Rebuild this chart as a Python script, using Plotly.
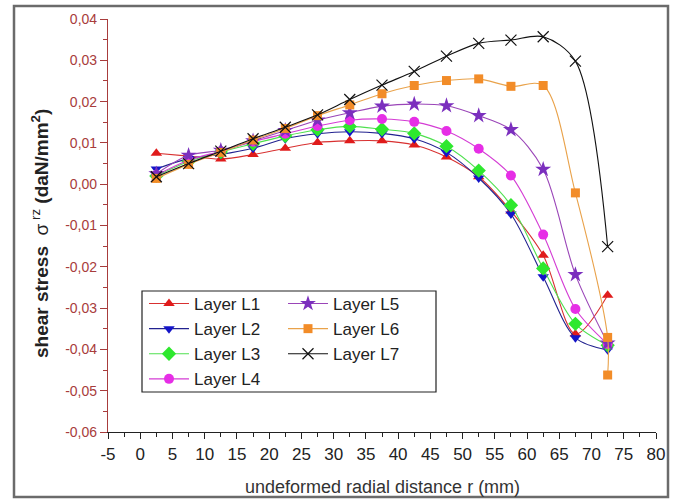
import plotly.graph_objects as go

# ---------------- data ----------------
r = [2.5, 7.5, 12.5, 17.5, 22.5, 27.5, 32.5, 37.5, 42.5, 47.5, 52.5, 57.5, 62.5, 67.5, 72.5]
r_l6 = r + [72.5]

L1 = [0.0075, 0.0068, 0.0061, 0.0072, 0.0087, 0.0101, 0.0105, 0.0105, 0.0095, 0.0066, 0.0018, -0.0065, -0.0172, -0.0363, -0.0269]
L2 = [0.0037, 0.0062, 0.0072, 0.0087, 0.0110, 0.0122, 0.0127, 0.0123, 0.0110, 0.0077, 0.0015, -0.0072, -0.0224, -0.0372, -0.0401]
L3 = [0.0020, 0.0055, 0.0078, 0.0098, 0.0117, 0.0132, 0.0140, 0.0133, 0.0123, 0.0092, 0.0033, -0.0051, -0.0204, -0.0338, -0.0390]
L4 = [0.0022, 0.0058, 0.0080, 0.0103, 0.0122, 0.0141, 0.0155, 0.0158, 0.0151, 0.0129, 0.0086, 0.0021, -0.0122, -0.0302, -0.0387]
L5 = [0.0025, 0.0070, 0.0082, 0.0105, 0.0130, 0.0155, 0.0173, 0.0189, 0.0194, 0.0190, 0.0166, 0.0132, 0.0036, -0.0219, -0.0385]
L6 = [0.0014, 0.0048, 0.0077, 0.0107, 0.0135, 0.0166, 0.0192, 0.0219, 0.0239, 0.0251, 0.0255, 0.0237, 0.0239, -0.0021, -0.0371, -0.0462]
L7 = [0.0018, 0.0050, 0.0080, 0.0110, 0.0138, 0.0168, 0.0205, 0.0240, 0.0273, 0.0310, 0.0341, 0.0349, 0.0357, 0.0298, -0.0151]

names = ["Layer L1", "Layer L2", "Layer L3", "Layer L4", "Layer L5", "Layer L6", "Layer L7"]
xs = [r, r, r, r, r, r_l6, r]
ys = [L1, L2, L3, L4, L5, L6, L7]

x_tickvals = [-5, 0, 5, 10, 15, 20, 25, 30, 35, 40, 45, 50, 55, 60, 65, 70, 75, 80]
x_ticktext = ["-5", "0", "5", "10", "15", "20", "25", "30", "35", "40", "45", "50", "55", "60", "65", "70", "75", "80"]
y_tickvals = [-0.06, -0.05, -0.04, -0.03, -0.02, -0.01, 0.0, 0.01, 0.02, 0.03, 0.04]
y_ticktext = ["-0,06", "-0,05", "-0,04", "-0,03", "-0,02", "-0,01", "0,00", "0,01", "0,02", "0,03", "0,04"]

# ---------------- styles ----------------
symbols = ["triangle-up", "triangle-down", "diamond", "circle", "star", "square", "x-thin-open"]
mcolors = ["#e01b1b", "#1414c8", "#2ee82e", "#e62ee6", "#7b2fbe", "#f28c28", "#111111"]
lcolors = ["#d83030", "#22228f", "#4fe04f", "#d43cd4", "#9a45b8", "#e9a24a", "#111111"]
msizes = [10, 10, 11, 10, 12, 9, 11]
legends = ["legend", "legend", "legend", "legend", "legend2", "legend2", "legend2"]

fig = go.Figure()
for i in range(7):
    marker = dict(symbol=symbols[i], color=mcolors[i], size=msizes[i])
    if symbols[i] == "x-thin-open":
        marker["line"] = dict(color=mcolors[i], width=1.2)
    else:
        marker["line"] = dict(width=0)
    fig.add_trace(go.Scatter(
        x=xs[i], y=ys[i], name=names[i], mode="lines+markers",
        line=dict(color=lcolors[i], width=1.1, shape="spline", smoothing=0.9),
        marker=marker, legend=legends[i],
    ))

# plot area in pixels: x 108..656, y 19..432
PL, PR, PT, PB = 108, 656, 19, 432
W, H = 677, 500
pw, ph = PR - PL, PB - PT

def px(xpix):
    return (xpix - PL) / pw

def py(ypix):
    return (PB - ypix) / ph

red = "#a83c3c"
fig.update_layout(
    width=W, height=H,
    margin=dict(l=PL, r=W - PR, t=PT, b=H - PB),
    paper_bgcolor="white", plot_bgcolor="white",
    font=dict(family="Liberation Sans, Arial, sans-serif", color="#222"),
    xaxis=dict(
        range=[-5, 80], tickmode="array", tickvals=x_tickvals, ticktext=x_ticktext,
        showgrid=False, zeroline=False,
        showline=True, linecolor="#222", linewidth=1.2,
        ticks="outside", ticklen=6, tickwidth=1, tickcolor="#222",
        minor=dict(ticks="outside", ticklen=4, dtick=2.5, tick0=-5, tickcolor="#222", showgrid=False),
        tickfont=dict(family="Liberation Sans Narrow, Liberation Sans, Arial", size=17, color="#222"),
    ),
    yaxis=dict(
        range=[-0.06, 0.04], tickmode="array", tickvals=y_tickvals, ticktext=y_ticktext,
        showgrid=False, zeroline=False,
        showline=True, linecolor=red, linewidth=1.2,
        ticks="outside", ticklen=7, tickwidth=1, tickcolor=red,
        minor=dict(ticks="outside", ticklen=4, dtick=0.005, tick0=-0.06, tickcolor=red, showgrid=False),
        tickfont=dict(family="Liberation Sans, Arial", size=14, color=red),
    ),
    legend=dict(
        x=px(144), y=py(286), xanchor="left", yanchor="top",
        bgcolor="rgba(0,0,0,0)", borderwidth=0,
        font=dict(size=17, color="#222"), itemwidth=40,
    ),
    legend2=dict(
        x=px(283), y=py(286), xanchor="left", yanchor="top",
        bgcolor="rgba(0,0,0,0)", borderwidth=0,
        font=dict(size=17, color="#222"), itemwidth=40,
    ),
    showlegend=True,
)

# legend box
fig.add_shape(type="rect", xref="paper", yref="paper",
              x0=px(142), x1=px(436), y0=py(392), y1=py(291),
              line=dict(color="#222", width=1.2), fillcolor="rgba(0,0,0,0)")
# outer frame of the image
fig.add_shape(type="rect", xref="paper", yref="paper",
              x0=px(14), x1=px(668), y0=py(497), y1=py(6),
              line=dict(color="#6b6b6b", width=2.5), fillcolor="rgba(0,0,0,0)")

# axis titles
fig.add_annotation(
    text="undeformed radial distance r (mm)", xref="paper", yref="paper",
    x=px(382), y=py(487), showarrow=False, xanchor="center", yanchor="middle",
    font=dict(family="Liberation Sans, Arial", size=18, color="#333"),
)
fig.add_annotation(
    text="<b>shear stress</b>  σ<sup> rz</sup> <b>(daN/mm<sup>2</sup>)</b>",
    xref="paper", yref="paper", x=px(40), y=py(234), textangle=-90,
    showarrow=False, xanchor="center", yanchor="middle",
    font=dict(family="Liberation Sans, Arial", size=19, color="#222"),
)

fig.write_html("out.html")
